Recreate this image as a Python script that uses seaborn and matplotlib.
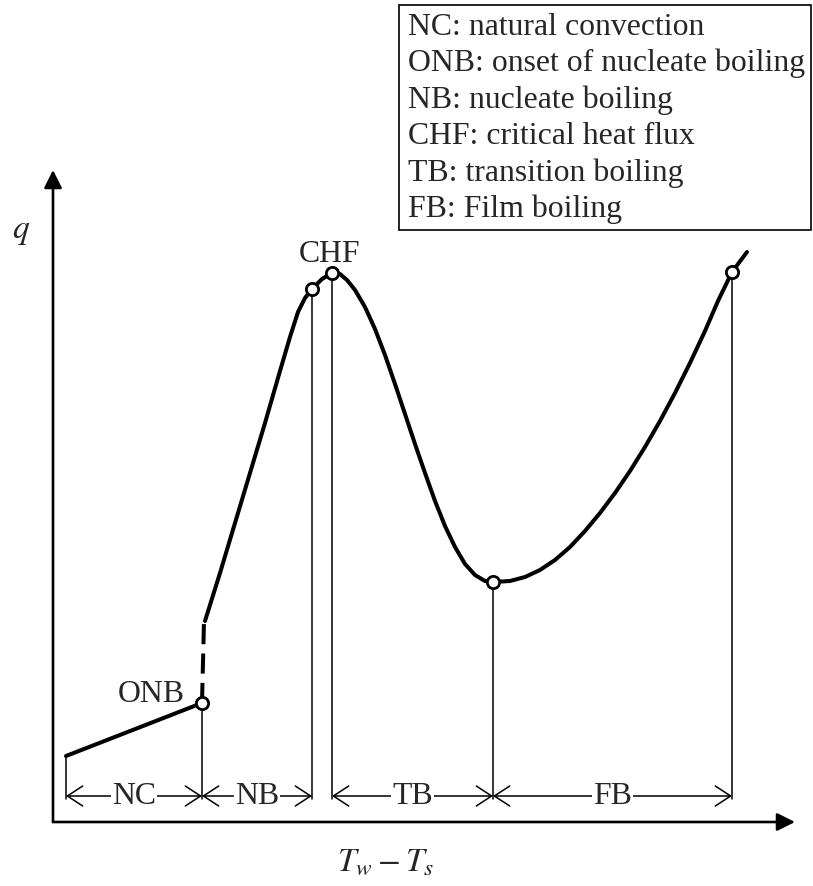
import numpy as np
import pandas as pd
import matplotlib
matplotlib.use("Agg")
import matplotlib.pyplot as plt
import seaborn as sns
from matplotlib.patches import Rectangle

# ---------------- data (arbitrary units: superheat dT, heat flux q) ----------------
nc_dT = [13, 149]
nc_q = [66, 119]

dash_dT = [149, 151]
dash_q = [119, 201]

nb_dT = [152, 167, 182, 197, 212, 227, 237, 245, 252, 259, 269, 279]
nb_q = [201, 249, 299, 349, 399, 451, 485, 510, 524, 533, 543, 549]

tb_dT = [279, 287, 294, 302, 312, 322, 332, 342, 352, 362, 372, 382, 392, 402, 412, 422, 432, 440]
tb_q = [549, 548, 542, 532, 515, 493, 467, 438, 408, 378, 349, 321, 296, 275, 258, 247, 241, 240]

fb_dT = [440, 457, 472, 487, 502, 517, 532, 547, 562, 577, 592, 607, 622, 637, 652, 665, 679, 694]
fb_q = [240, 241, 245, 252, 262, 275, 291, 309, 329, 351, 375, 401, 429, 459, 491, 521, 550, 570]

# marked points: ONB, end of NB, CHF, minimum, film boiling point
pt_dT = [149, 259, 279, 440, 679]
pt_q = [119, 533, 549, 240, 550]

# regime boundaries and labels
regions = ["NC", "NB", "TB", "FB"]
reg_start = [13, 149, 279, 440]
reg_end = [149, 259, 440, 679]

legend_lines = [
    "NC: natural convection",
    "ONB: onset of nucleate boiling",
    "NB: nucleate boiling",
    "CHF: critical heat flux",
    "TB: transition boiling",
    "FB: Film boiling",
]

# ---------------- style ----------------
sns.set_style("white")
plt.rcParams["font.family"] = ["Liberation Serif", "DejaVu Serif"]
plt.rcParams["mathtext.fontset"] = "stix"

W, H = 813, 887
fig = plt.figure(figsize=(W / 100, H / 100), dpi=100)
x0, y0, x1, y1 = 53, 823, 795, 171
ax = fig.add_axes([x0 / W, (H - y0) / H, (x1 - x0) / W, (y0 - y1) / H])
ax.set_xlim(0, x1 - x0)
ax.set_ylim(0, y0 - y1)
ax.axis("off")

LW = 2.9
sns.lineplot(x=nc_dT, y=nc_q, ax=ax, color="k", lw=LW, sort=False, estimator=None)
sns.lineplot(x=dash_dT, y=dash_q, ax=ax, color="k", lw=LW, sort=False, estimator=None,
             dashes=False)
ax.lines[-1].set_dashes((5, 2.3))
for xs, ys in [(nb_dT, nb_q), (tb_dT, tb_q), (fb_dT, fb_q)]:
    sns.lineplot(x=xs, y=ys, ax=ax, color="k", lw=LW, sort=False, estimator=None)

# vertical drop lines
q_base = 23
for xv, qv in [(nc_dT[0], nc_q[0])] + list(zip(pt_dT, pt_q)):
    ax.plot([xv, xv], [q_base, qv], color="k", lw=1.1, zorder=2)

sns.scatterplot(x=pt_dT, y=pt_q, ax=ax, s=78, color="white", edgecolor="black",
                linewidth=2.0, zorder=5)

# axes arrows
arw = dict(arrowstyle="-|>", color="k", lw=1.9, mutation_scale=27, shrinkA=0, shrinkB=0)
ax.annotate("", xy=(x1 - x0, 0), xytext=(0, 0), arrowprops=arw, annotation_clip=False)
ax.annotate("", xy=(0, y0 - y1), xytext=(0, 0), arrowprops=arw, annotation_clip=False)

FS = 22.9
# regime arrows
q_row = 26
for name, a, b in zip(regions, reg_start, reg_end):
    ax.annotate("", xy=(b, q_row), xytext=(a, q_row),
                arrowprops=dict(arrowstyle="<->,head_length=0.55,head_width=0.36",
                                color="k", lw=1.1, mutation_scale=20, shrinkA=0, shrinkB=0))
    ax.text((a + b) / 2, q_row, name, ha="center", va="center", fontsize=FS,
            bbox=dict(facecolor="white", edgecolor="none", pad=1.0), zorder=6)

ax.text(pt_dT[0] - 17, pt_q[0] + 2, "ONB", ha="right", va="baseline", fontsize=FS)
ax.text(pt_dT[2] - 3, pt_q[2] + 12, "CHF", ha="center", va="baseline", fontsize=FS)

# overlay for labels and legend box (pixel coordinates)
ov = fig.add_axes([0, 0, 1, 1], zorder=10)
ov.set_xlim(0, W)
ov.set_ylim(H, 0)
ov.axis("off")
ov.patch.set_alpha(0)
ov.add_patch(Rectangle((399, 6), 412, 225, fill=False, lw=1.2, edgecolor="k"))
for i, t in enumerate(legend_lines):
    ov.text(408, 35 + 36.4 * i, t, ha="left", va="baseline", fontsize=FS)

ov.text(21, 232, r"$q$", ha="center", va="center", fontsize=24)
ov.text(386, 862, r"$T_w - T_s$", ha="center", va="center", fontsize=24)

fig.savefig("out.png", dpi=100)
